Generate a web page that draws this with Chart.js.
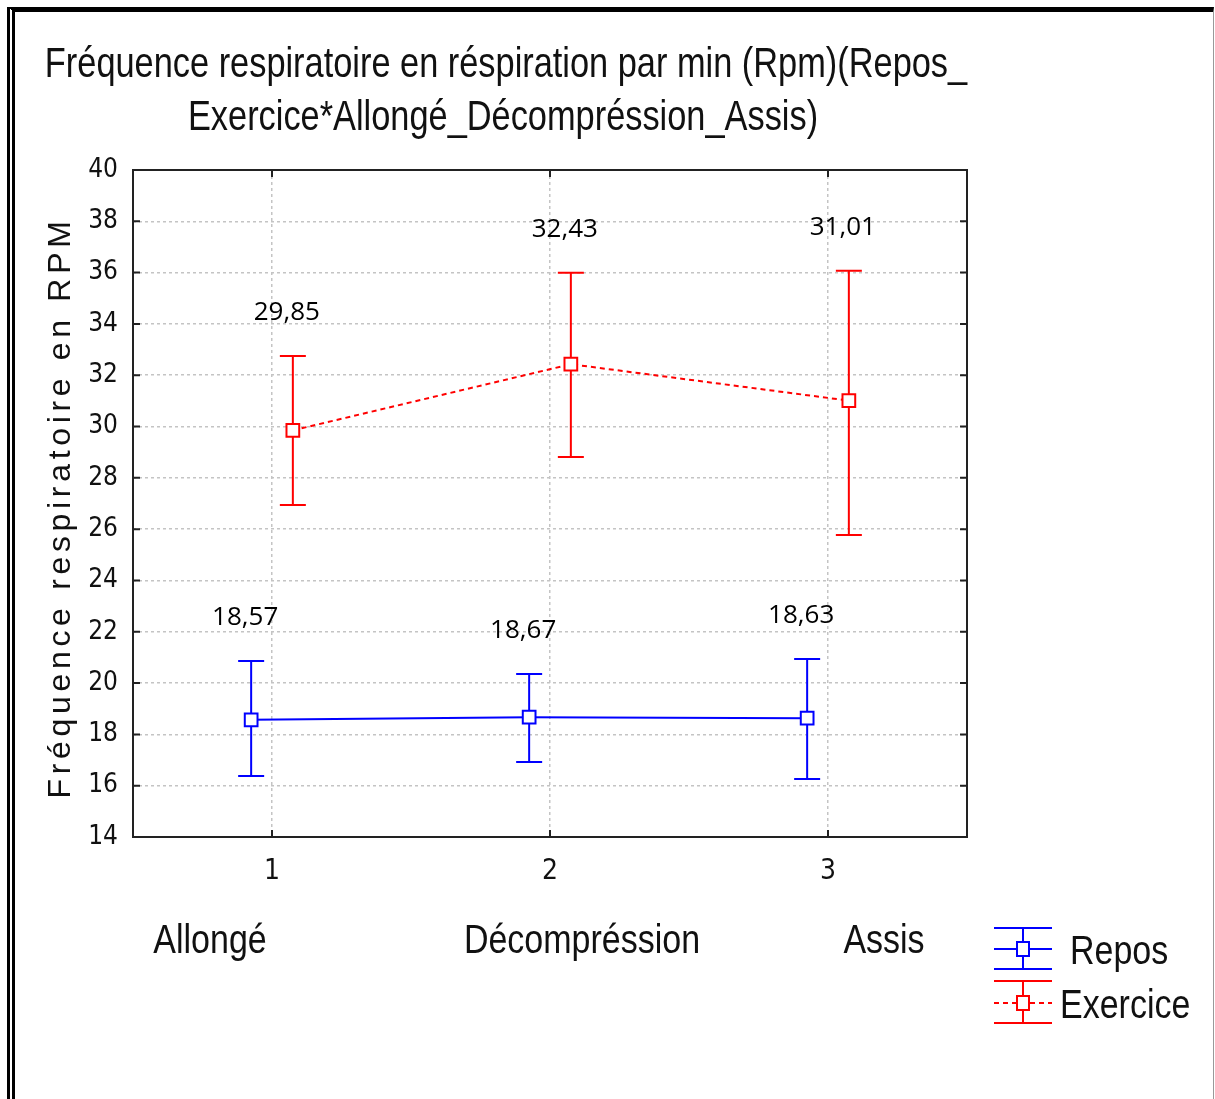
<!DOCTYPE html>
<html>
<head>
<meta charset="utf-8">
<script src="https://cdn.jsdelivr.net/npm/chart.js@4.4.0/dist/chart.umd.min.js"></script>
<style>
    html, body { margin: 0; padding: 0; background: #fff; }
    #wrap { position: relative; width: 1215px; height: 1099px; overflow: hidden; }
    #frame { position: absolute; left: 7px; top: 7px; width: 1207px; height: 1200px; box-sizing: border-box;
             border-top: 5px solid #000; border-left: 8px double #000; border-right: 1px solid #999; pointer-events: none; }
</style>
</head>
<body>
<div id="wrap">
    <canvas id="chart" width="1215" height="1099"></canvas>
    <div id="frame"></div>
</div>
<script>
// Data
const categories = ['Allongé', 'Décompréssion', 'Assis'];
const xTicks = [1, 2, 3];
const yTicks = [14, 16, 18, 20, 22, 24, 26, 28, 30, 32, 34, 36, 38, 40];
const seriesNames = ['Repos', 'Exercice'];

const reposMean = [18.57, 18.67, 18.63];
const reposLow = [16.38, 16.92, 16.26];
const reposHigh = [20.86, 20.35, 20.94];

const exerciceMean = [29.85, 32.43, 31.01];
const exerciceLow = [26.94, 28.81, 25.77];
const exerciceHigh = [32.75, 35.99, 36.07];

const titleLines = ['Fréquence respiratoire en réspiration par min (Rpm)(Repos_', 'Exercice*Allongé_Décompréssion_Assis)'];
const yTitle = 'Fréquence respiratoire en RPM';

// styling
const NARROW = "'Liberation Sans Narrow', 'DejaVu Sans Condensed', 'Liberation Sans', Arial, sans-serif";
const SANS = "'Liberation Sans', Arial, sans-serif";
const SQUEEZE = 0.85;
const groupShift = 0.075;   // repos left of the tick, exercice right of it
const catShift = [-62, 32, 56];

function toPoints(mean, low, high, shift) {
    return mean.map((v, i) => ({ x: xTicks[i] + shift, y: v, low: low[i], high: high[i] }));
}

// draw text squeezed horizontally, like the narrow font of the original
function narrowText(ctx, text, x, y, size, align, squeeze = SQUEEZE) {
    ctx.save();
    ctx.font = size + 'px ' + SANS;
    ctx.textAlign = align;
    ctx.textBaseline = 'alphabetic';
    ctx.translate(x, y);
    ctx.scale(squeeze, 1);
    ctx.fillText(text, 0, 0);
    ctx.restore();
}

const errorBars = {
    id: 'errorBars',
    beforeDatasetsDraw(chart) {
        const { ctx, scales: { x, y } } = chart;
        chart.data.datasets.forEach(ds => {
            ctx.save();
            ctx.strokeStyle = ds.borderColor;
            ctx.lineWidth = 2;
            ds.data.forEach(p => {
                const px = x.getPixelForValue(p.x);
                const top = y.getPixelForValue(p.high);
                const bot = y.getPixelForValue(p.low);
                ctx.beginPath();
                ctx.moveTo(px, top); ctx.lineTo(px, bot);
                ctx.moveTo(px - 13, top); ctx.lineTo(px + 13, top);
                ctx.moveTo(px - 13, bot); ctx.lineTo(px + 13, bot);
                ctx.stroke();
            });
            ctx.restore();
        });
    },
    afterDatasetsDraw(chart) {
        const { ctx, scales: { x, y } } = chart;
        ctx.save();
        ctx.fillStyle = '#000';
        ctx.font = "26px 'Open Sans', sans-serif";
        ctx.textAlign = 'center';
        chart.data.datasets.forEach(ds => {
            ds.data.forEach(p => {
                const label = p.y.toFixed(2).replace('.', ',');
                ctx.fillText(label, x.getPixelForValue(p.x) - 6, y.getPixelForValue(p.high) - 36);
            });
        });
        ctx.restore();
    }
};

const decorations = {
    id: 'decorations',
    afterDraw(chart) {
        const { ctx, chartArea: a, scales: { x, y } } = chart;
        ctx.save();

        // frame and inward tick marks
        ctx.strokeStyle = '#222';
        ctx.lineWidth = 2;
        ctx.strokeRect(a.left, a.top, a.right - a.left, a.bottom - a.top);
        ctx.beginPath();
        yTicks.forEach(v => {
            const py = y.getPixelForValue(v);
            ctx.moveTo(a.left, py); ctx.lineTo(a.left + 7, py);
            ctx.moveTo(a.right, py); ctx.lineTo(a.right - 7, py);
        });
        xTicks.forEach(v => {
            const px = x.getPixelForValue(v);
            ctx.moveTo(px, a.bottom); ctx.lineTo(px, a.bottom - 7);
            ctx.moveTo(px, a.top); ctx.lineTo(px, a.top + 7);
        });
        ctx.stroke();

        // title
        ctx.fillStyle = '#111';
        narrowText(ctx, titleLines[0], 506, 77, 42, 'center', 0.818);
        narrowText(ctx, titleLines[1], 503, 130, 42, 'center', 0.818);

        // y axis title, spread out
        ctx.save();
        ctx.font = '32px ' + SANS;
        const natural = ctx.measureText(yTitle).width;
        ctx.letterSpacing = ((582 - natural) / yTitle.length) + 'px';
        ctx.translate(70, (a.top + a.bottom) / 2 + 4);
        ctx.rotate(-Math.PI / 2);
        ctx.textAlign = 'center';
        ctx.fillText(yTitle, 0, 0);
        ctx.restore();

        // category names under the axis
        categories.forEach((c, i) => {
            narrowText(ctx, c, x.getPixelForValue(xTicks[i]) + catShift[i], a.bottom + 116, 40, 'center');
        });

        // legend
        const lx = a.right + 56;
        const rows = [
            { name: seriesNames[0], color: '#0000ff', dash: [], cy: 949, up: 21, down: 20, tx: 1070, ty: 964 },
            { name: seriesNames[1], color: '#ff0000', dash: [5, 4], cy: 1003, up: 22, down: 20, tx: 1060, ty: 1018 }
        ];
        rows.forEach(r => {
            ctx.strokeStyle = r.color;
            ctx.lineWidth = 2;
            ctx.setLineDash([]);
            ctx.beginPath();
            ctx.moveTo(lx - 29, r.cy - r.up); ctx.lineTo(lx + 29, r.cy - r.up);
            ctx.moveTo(lx - 29, r.cy + r.down); ctx.lineTo(lx + 29, r.cy + r.down);
            ctx.moveTo(lx, r.cy - r.up); ctx.lineTo(lx, r.cy + r.down);
            ctx.stroke();
            ctx.setLineDash(r.dash);
            ctx.beginPath();
            ctx.moveTo(lx - 29, r.cy); ctx.lineTo(lx + 29, r.cy);
            ctx.stroke();
            ctx.setLineDash([]);
            ctx.fillStyle = '#fff';
            ctx.fillRect(lx - 6, r.cy - 7, 12, 14);
            ctx.strokeRect(lx - 6, r.cy - 7, 12, 14);
            ctx.fillStyle = '#111';
            narrowText(ctx, r.name, r.tx, r.ty, 40, 'left');
        });

        ctx.restore();
    }
};

const gridOpts = { color: '#c4c4c4', lineWidth: 1.5, drawTicks: false };
const borderOpts = { display: false, dash: [3, 3] };

new Chart(document.getElementById('chart').getContext('2d'), {
    type: 'scatter',
    data: {
        datasets: [
            {
                label: seriesNames[0],
                data: toPoints(reposMean, reposLow, reposHigh, -groupShift),
                showLine: true,
                borderColor: '#0000ff',
                borderWidth: 2,
                pointStyle: 'rect',
                pointRadius: 9,
                pointBorderWidth: 2,
                pointBackgroundColor: '#fff',
                pointBorderColor: '#0000ff'
            },
            {
                label: seriesNames[1],
                data: toPoints(exerciceMean, exerciceLow, exerciceHigh, groupShift),
                showLine: true,
                borderColor: '#ff0000',
                borderWidth: 2,
                borderDash: [5, 4],
                pointStyle: 'rect',
                pointRadius: 9,
                pointBorderWidth: 2,
                pointBackgroundColor: '#fff',
                pointBorderColor: '#ff0000'
            }
        ]
    },
    options: {
        responsive: false,
        animation: false,
        devicePixelRatio: 1,
        layout: { padding: { left: 30, top: 170, right: 248, bottom: 0 } },
        plugins: {
            legend: { display: false },
            tooltip: { enabled: false },
            title: { display: false }
        },
        scales: {
            x: {
                type: 'linear',
                min: 0.5,
                max: 3.5,
                afterBuildTicks: s => { s.ticks = xTicks.map(v => ({ value: v })); },
                afterFit: s => { s.height = 262; },
                grid: gridOpts,
                border: borderOpts,
                ticks: { padding: 18, color: '#111', font: { family: NARROW, size: 28 } }
            },
            y: {
                min: 14,
                max: 40,
                afterBuildTicks: s => { s.ticks = yTicks.map(v => ({ value: v })); },
                afterFit: s => { s.width = 103; },
                grid: gridOpts,
                border: borderOpts,
                ticks: { padding: 15, color: '#111', font: { family: NARROW, size: 26 } }
            }
        }
    },
    plugins: [errorBars, decorations]
});
</script>
</body>
</html>
